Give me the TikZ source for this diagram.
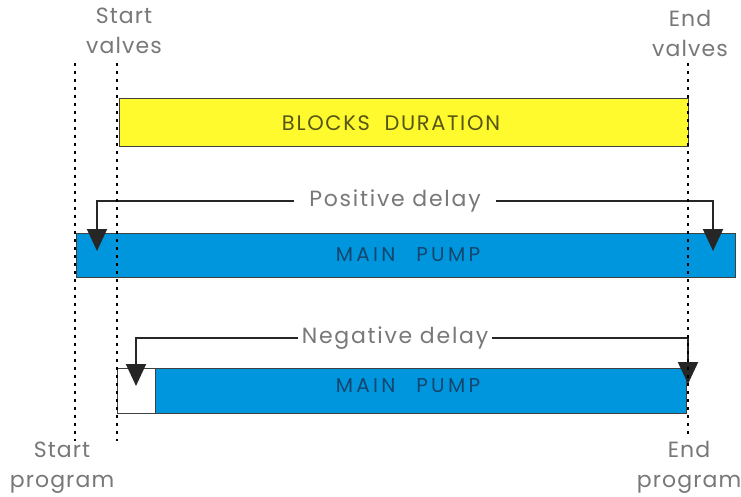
\documentclass[tikz,border=0pt]{standalone}
\usepackage{fontspec}
\setmainfont[LetterSpace=8]{Poppins}
\usetikzlibrary{arrows.meta}

\definecolor{barYellow}{RGB}{255,250,45}
\definecolor{barBlue}{RGB}{0,150,222}
\definecolor{txtGray}{RGB}{120,120,120}
\definecolor{txtOlive}{RGB}{85,85,20}
\definecolor{txtBlue}{RGB}{20,70,110}

\tikzset{
  lane/.style={draw=black!75, line width=1.2pt, anchor=north west, inner sep=0pt},
  lanetxt/.style={font=\fontsize{20}{22}\selectfont},
  marker/.style={line width=2.6pt, dash pattern=on 2.6pt off 5.4pt},
  delay/.style={line width=2pt, black!85, -{Triangle[width=20pt,length=22pt]}},
  delaytxt/.style={text=txtGray, inner ysep=0pt, font=\fontsize{22}{24}\selectfont},
  lbl/.style={text=txtGray, align=center, inner sep=0pt,
    font=\fontsize{22}{30}\selectfont\addfontfeature{LetterSpace=5}}
}

\begin{document}
\begin{tikzpicture}[x=1pt, y=-1pt]

% Background
\useasboundingbox[fill=white] (0,0) rectangle (741,497);

% === LABELS ===
\node[lbl] (sv) at (124,31) {Start\\valves};
\node[lbl] (ev) at (690,33) {End\\valves};
\node[lbl] (sp) at (62,468) {Start\\program};
\node[lbl] (ep) at (689,467) {End\\program};

% === BARS ===
\node[lane, fill=barYellow, minimum width=569pt, minimum height=48pt] (blocks) at (119,98) {};
\node[lanetxt, text=txtOlive, font=\fontsize{21}{22}\selectfont] at (391,123) {BLOCKS\ \ DURATION};

\node[lane, fill=barBlue, minimum width=659pt, minimum height=44pt] (pumpA) at (76,233) {};
\node[lanetxt, text=txtBlue] at (408,255) {M\,A\,I\,N\ \ \ P\,U\,M\,P};

\node[lane, fill=white, minimum width=38pt, minimum height=45pt] (gap) at (117,368) {};
\node[lane, fill=barBlue, minimum width=531pt, minimum height=45pt] (pumpB) at (155,368) {};
\node[lanetxt, text=txtBlue] at (408,386) {M\,A\,I\,N\ \ \ P\,U\,M\,P};

% === DELAY ARROWS ===
\node[delaytxt, inner xsep=15pt] (posd) at (395,201) {Positive delay};
\coordinate (posL) at (97,251);
\coordinate (posR) at (713,251);
\draw[delay] (posd.west) -| (posL);
\draw[delay] (posd.east) -| (posR);

\node[delaytxt, inner xsep=4pt] (negd) at (395,338) {Negative delay};
\coordinate (negL) at (136,386);
\coordinate (negR) at (688,384);
\draw[delay] (negd.west) -| (negL);
\draw[delay] (negd.east) -| (negR);

% === TIME MARKERS ===
\draw[marker] (75,63) -- (75,441);
\draw[marker] (117,63) -- (117,441);
\draw[marker] (688,63) -- (688,438);

\end{tikzpicture}
\end{document}
